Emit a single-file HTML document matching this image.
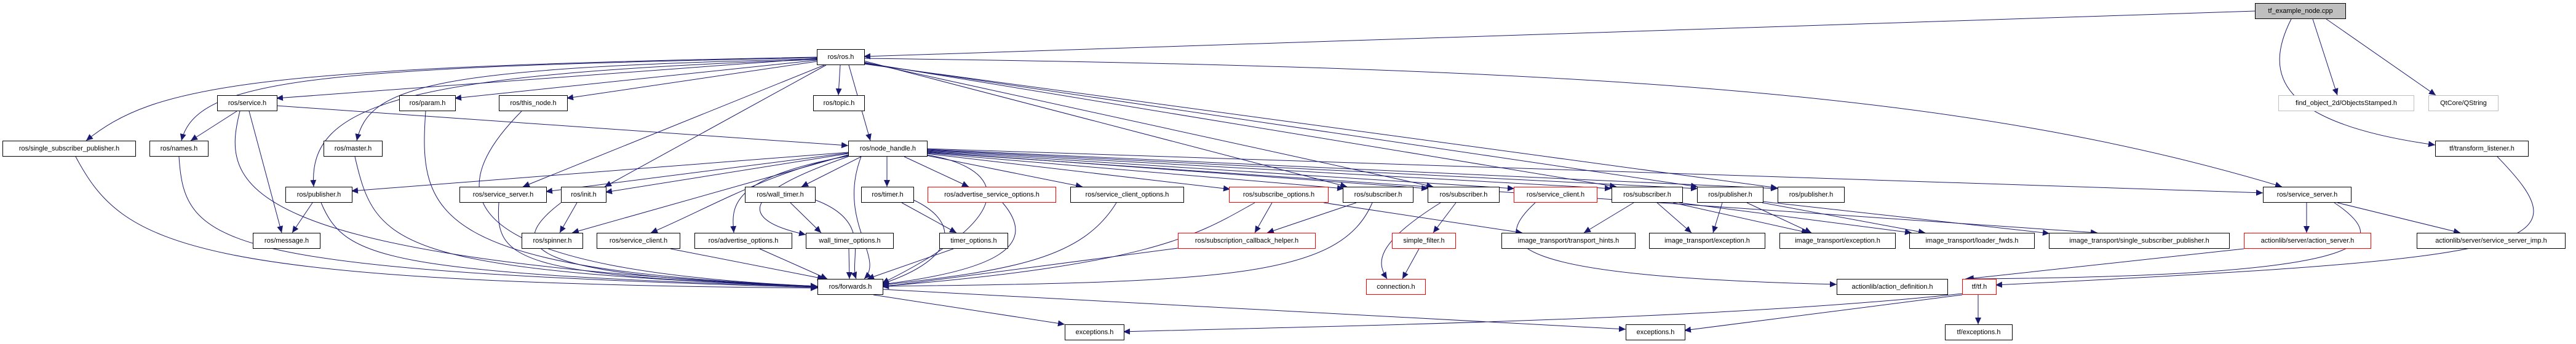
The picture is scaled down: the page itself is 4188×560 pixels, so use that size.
<!DOCTYPE html>
<html><head><meta charset="utf-8"><style>
body{margin:0;background:#fff;width:4188px;height:560px;overflow:hidden;position:relative;font-family:"Liberation Sans",sans-serif}
.n{position:absolute;height:24px;border:1px solid #000;background:#fff;font-size:11px;line-height:24px;text-align:center;white-space:nowrap;box-sizing:content-box}
.r{border-color:#f00}.g{border-color:#bfbfbf}.f{background:#bfbfbf}
svg{position:absolute;left:0;top:0}
</style></head><body>
<svg width="4188" height="560" viewBox="0 0 4188 560">
<defs><marker id="a" markerUnits="userSpaceOnUse" markerWidth="12" markerHeight="10" refX="11" refY="5" orient="auto"><path d="M0,0 L11,5 L0,10 z" fill="#191970"/></marker></defs>
<g fill="none" stroke="#191970" stroke-width="1" marker-end="url(#a)">
<path d="M3666,18 L1404,92"/>
<path d="M3760,31 L3800,155"/>
<path d="M3782,31 L3960,155"/>
<path d="M3725,31 C3680,120 3700,200 3959,236"/>
<path d="M1328,95 L449,160"/>
<path d="M1328,98 L739,160"/>
<path d="M1328,100 L921,160"/>
<path d="M1366,106 L1363,155"/>
<path d="M1380,106 L1415,229"/>
<path d="M1328,93 C400,110 250,140 140,229"/>
<path d="M1328,94 C500,110 320,130 295,229"/>
<path d="M1328,96 C700,110 600,140 580,229"/>
<path d="M1328,97 C650,120 500,170 510,304"/>
<path d="M1340,106 L850,304"/>
<path d="M1343,106 L983,304"/>
<path d="M1404,99 L2190,304"/>
<path d="M1404,101 L2330,304"/>
<path d="M1404,102 L2628,304"/>
<path d="M1404,103 L2760,304"/>
<path d="M1404,104 L2890,306"/>
<path d="M1404,95 C2600,110 3200,150 3710,304"/>
<path d="M385,181 L310,229"/>
<path d="M405,181 L458,379"/>
<path d="M390,181 C360,300 370,420 1329,467"/>
<path d="M449,172 L1379,237"/>
<path d="M692,181 C680,350 700,440 1329,466"/>
<path d="M848,181 C700,330 760,440 1329,466"/>
<path d="M291,255 C300,400 350,440 1329,468"/>
<path d="M577,255 C610,400 640,440 1329,467"/>
<path d="M123,255 C200,400 300,460 1329,469"/>
<path d="M508,330 L475,379"/>
<path d="M522,330 C560,420 620,445 1329,467"/>
<path d="M811,330 C805,420 830,450 1329,466"/>
<path d="M938,330 L910,379"/>
<path d="M912,330 C820,400 840,450 1329,466"/>
<path d="M1090,405 L1340,454"/>
<path d="M1235,405 L1345,454"/>
<path d="M1380,405 L1381,454"/>
<path d="M1379,248 L571,311"/>
<path d="M1379,249 L887,312"/>
<path d="M1379,250 L984,313"/>
<path d="M1379,252 L930,379"/>
<path d="M1379,253 C1250,280 1150,340 1058,379"/>
<path d="M1379,254 C1180,290 1190,340 1193,379"/>
<path d="M1379,255 C1190,320 1210,360 1310,382"/>
<path d="M1400,255 L1303,304"/>
<path d="M1442,255 L1442,304"/>
<path d="M1400,255 C1360,360 1440,420 1405,454"/>
<path d="M1470,255 L1575,304"/>
<path d="M1506,253 L1760,304"/>
<path d="M1506,250 L2000,308"/>
<path d="M1506,249 L2185,307"/>
<path d="M1506,247 L2322,307"/>
<path d="M1506,246 L2462,307"/>
<path d="M1506,245 L2620,307"/>
<path d="M1506,244 L2760,307"/>
<path d="M1506,243 L2890,307"/>
<path d="M1506,242 L3679,314"/>
<path d="M1506,248 L3410,379"/>
<path d="M1506,252 C1620,270 1680,340 1434,461"/>
<path d="M1285,330 L1335,379"/>
<path d="M1324,325 C1420,360 1380,420 1392,454"/>
<path d="M1466,330 L1555,379"/>
<path d="M1484,325 C1560,360 1560,420 1434,462"/>
<path d="M1550,405 L1410,454"/>
<path d="M1630,330 C1690,400 1620,440 1434,463"/>
<path d="M1815,330 C1760,420 1650,440 1434,464"/>
<path d="M2068,330 L2040,379"/>
<path d="M2040,330 C1950,380 1880,430 1434,466"/>
<path d="M2152,330 L2475,379"/>
<path d="M2205,330 L2060,379"/>
<path d="M2231,330 C2180,450 2000,460 1434,466"/>
<path d="M2367,330 L2330,379"/>
<path d="M2342,330 C2230,400 2240,430 2255,454"/>
<path d="M2307,405 L2280,454"/>
<path d="M1915,404 L1434,467"/>
<path d="M2496,330 C2420,400 2450,450 2986,463"/>
<path d="M2656,330 L2575,379"/>
<path d="M2694,330 L2750,379"/>
<path d="M2720,330 L2940,379"/>
<path d="M2730,330 L3108,379"/>
<path d="M2800,330 L2785,379"/>
<path d="M2840,330 L2945,379"/>
<path d="M2865,330 L3130,379"/>
<path d="M2865,328 L3332,380"/>
<path d="M3750,330 L3750,379"/>
<path d="M3800,330 L4000,379"/>
<path d="M3795,330 C3900,400 3850,450 3195,454"/>
<path d="M3648,405 L3198,454"/>
<path d="M4060,255 C4200,400 4150,420 3244,464"/>
<path d="M3190,478 C2800,520 2200,530 1826,540"/>
<path d="M3190,480 L2738,538"/>
<path d="M3216,480 L3216,528"/>
<path d="M1420,480 L1731,528"/>
<path d="M1434,471 L2643,536"/>
</g></svg>
<div class="n f" style="left:3666px;top:5px;width:146px">tf_example_node.cpp</div>
<div class="n" style="left:1328px;top:80px;width:76px">ros/ros.h</div>
<div class="n" style="left:353px;top:155px;width:96px">ros/service.h</div>
<div class="n" style="left:649px;top:155px;width:90px">ros/param.h</div>
<div class="n" style="left:811px;top:155px;width:110px">ros/this_node.h</div>
<div class="n" style="left:1322px;top:155px;width:82px">ros/topic.h</div>
<div class="n g" style="left:3704px;top:155px;width:219px">find_object_2d/ObjectsStamped.h</div>
<div class="n g" style="left:3948px;top:155px;width:112px">QtCore/QString</div>
<div class="n" style="left:4px;top:229px;width:215px">ros/single_subscriber_publisher.h</div>
<div class="n" style="left:243px;top:229px;width:94px">ros/names.h</div>
<div class="n" style="left:526px;top:229px;width:94px">ros/master.h</div>
<div class="n" style="left:1379px;top:229px;width:127px">ros/node_handle.h</div>
<div class="n" style="left:3959px;top:229px;width:150px">tf/transform_listener.h</div>
<div class="n" style="left:464px;top:304px;width:107px">ros/publisher.h</div>
<div class="n" style="left:747px;top:304px;width:140px">ros/service_server.h</div>
<div class="n" style="left:912px;top:304px;width:72px">ros/init.h</div>
<div class="n" style="left:1211px;top:304px;width:113px">ros/wall_timer.h</div>
<div class="n" style="left:1400px;top:304px;width:84px">ros/timer.h</div>
<div class="n r" style="left:1508px;top:304px;width:207px">ros/advertise_service_options.h</div>
<div class="n" style="left:1740px;top:304px;width:183px">ros/service_client_options.h</div>
<div class="n r" style="left:1998px;top:304px;width:160px">ros/subscribe_options.h</div>
<div class="n" style="left:2183px;top:304px;width:113px">ros/subscriber.h</div>
<div class="n" style="left:2321px;top:304px;width:115px">ros/subscriber.h</div>
<div class="n r" style="left:2461px;top:304px;width:134px">ros/service_client.h</div>
<div class="n" style="left:2620px;top:304px;width:114px">ros/subscriber.h</div>
<div class="n" style="left:2759px;top:304px;width:106px">ros/publisher.h</div>
<div class="n" style="left:2890px;top:304px;width:107px">ros/publisher.h</div>
<div class="n" style="left:3679px;top:304px;width:142px">ros/service_server.h</div>
<div class="n" style="left:411px;top:379px;width:108px">ros/message.h</div>
<div class="n" style="left:848px;top:379px;width:98px">ros/spinner.h</div>
<div class="n" style="left:970px;top:379px;width:134px">ros/service_client.h</div>
<div class="n" style="left:1129px;top:379px;width:157px">ros/advertise_options.h</div>
<div class="n" style="left:1310px;top:379px;width:141px">wall_timer_options.h</div>
<div class="n" style="left:1527px;top:379px;width:110px">timer_options.h</div>
<div class="n r" style="left:1915px;top:379px;width:222px">ros/subscription_callback_helper.h</div>
<div class="n r" style="left:2263px;top:379px;width:102px">simple_filter.h</div>
<div class="n" style="left:2441px;top:379px;width:216px">image_transport/transport_hints.h</div>
<div class="n" style="left:2681px;top:379px;width:187px">image_transport/exception.h</div>
<div class="n" style="left:2893px;top:379px;width:187px">image_transport/exception.h</div>
<div class="n" style="left:3104px;top:379px;width:202px">image_transport/loader_fwds.h</div>
<div class="n" style="left:3331px;top:379px;width:292px">image_transport/single_subscriber_publisher.h</div>
<div class="n r" style="left:3648px;top:379px;width:205px">actionlib/server/action_server.h</div>
<div class="n" style="left:3929px;top:379px;width:240px">actionlib/server/service_server_imp.h</div>
<div class="n" style="left:1329px;top:454px;width:105px">ros/forwards.h</div>
<div class="n r" style="left:2221px;top:454px;width:95px">connection.h</div>
<div class="n" style="left:2986px;top:454px;width:179px">actionlib/action_definition.h</div>
<div class="n r" style="left:3190px;top:454px;width:54px">tf/tf.h</div>
<div class="n" style="left:1731px;top:528px;width:95px">exceptions.h</div>
<div class="n" style="left:2643px;top:528px;width:95px">exceptions.h</div>
<div class="n" style="left:3162px;top:528px;width:108px">tf/exceptions.h</div>
</body></html>
